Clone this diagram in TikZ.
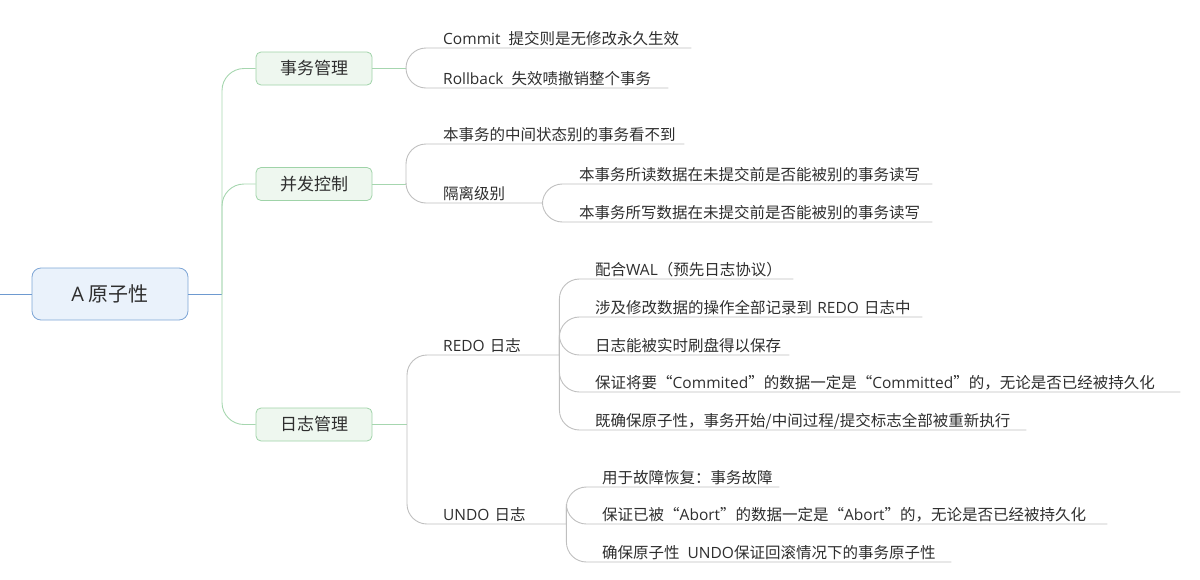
\documentclass[tikz,border=0pt]{standalone}
\usepackage{fontspec}
\setmainfont{Noto Sans CJK SC}
\newfontfamily\lat{Open Sans}
\definecolor{txt}{HTML}{2E2E2E}
\definecolor{grayline}{HTML}{BFBFBF}
\definecolor{greenl}{HTML}{A6D6AF}
\definecolor{brborder}{HTML}{9FD3A8}
\definecolor{brfill}{HTML}{EEF7EF}
\definecolor{rootfill}{HTML}{EAF2FB}
\definecolor{rootborder}{HTML}{7EA6D6}
\definecolor{bluel}{HTML}{6E9AD0}
\begin{document}
\begin{tikzpicture}[x=1pt,y=-1pt,
  rootbox/.style={draw=rootborder, fill=rootfill, rounded corners=9pt, minimum width=156pt, minimum height=52pt, inner sep=0pt, font=\fontsize{20}{24}\selectfont, text=txt, line width=0.8pt},
  branchbox/.style={draw=brborder, fill=brfill, rounded corners=5pt, minimum width=116pt, minimum height=33pt, inner sep=0pt, font=\fontsize{17}{20}\selectfont, text=txt, line width=0.8pt},
  leaf/.style={anchor=south west, inner xsep=0pt, inner ysep=3.5pt, text depth=0pt, align=left, font=\fontsize{15.5}{18}\selectfont, text=txt},
  gline/.style={draw=grayline, line width=0.9pt, rounded corners=20pt},
  greenline/.style={draw=greenl, line width=0.9pt, rounded corners=22pt},
  blueline/.style={draw=bluel, line width=0.9pt}]
\useasboundingbox (0,0) rectangle (1200,579);

% root and branches
\node[rootbox] (root) at (110,294) {{\lat A} 原子性};
\coordinate (lstub) at (0,294);
\coordinate (trunk) at (222,294);
\node[branchbox] (b1) at (314,68.5) {事务管理};
\node[branchbox] (b2) at (314,184) {并发控制};
\node[branchbox] (b3) at (314,424.5) {日志管理};
\coordinate (j1) at (406,68.5);
\coordinate (j2) at (406,184);
\coordinate (j3) at (407,424.5);

% leaves
\node[leaf, text width=248pt] (c1) at (443,48) {\mbox{{\lat Commit}\hspace{8pt}提交则是无修改永久生效}};
\node[leaf, text width=225pt] (c2) at (443,88) {\mbox{{\lat Rollback}\hspace{8pt}失效啧撤销整个事务}};
\node[leaf, text width=241pt] (p1) at (443,144) {\mbox{本事务的中间状态别的事务看不到}};
\node[leaf, text width=99pt] (p2) at (443,203) {\mbox{隔离级别}};
\node[leaf, text width=353pt] (p21) at (579,184) {\mbox{本事务所读数据在未提交前是否能被别的事务读写}};
\node[leaf, text width=353pt] (p22) at (579,222) {\mbox{本事务所写数据在未提交前是否能被别的事务读写}};
\node[leaf, text width=116pt] (redo) at (443,355) {\mbox{{\lat REDO} 日志}};
\node[leaf, text width=123pt] (undo) at (443,524) {\mbox{{\lat UNDO} 日志}};
\node[leaf, text width=198pt] (r1) at (595,279) {\mbox{配合{\lat WAL}（预先日志协议）}};
\node[leaf, text width=327pt] (r2) at (595,317) {\mbox{涉及修改数据的操作全部记录到 {\lat REDO} 日志中}};
\node[leaf, text width=194pt] (r3) at (595,355) {\mbox{日志能被实时刷盘得以保存}};
\node[leaf, text width=585pt] (r4) at (595,392) {\mbox{保证将要“{\lat Commited}”的数据一定是“{\lat Committed}”的，无论是否已经被持久化}};
\node[leaf, text width=431pt] (r5) at (595,430) {\mbox{既确保原子性，事务开始/中间过程/提交标志全部被重新执行}};
\node[leaf, text width=177pt] (u1) at (602,487) {\mbox{用于故障恢复：事务故障}};
\node[leaf, text width=505pt] (u2) at (602,524) {\mbox{保证已被“{\lat Abort}”的数据一定是“{\lat Abort}”的，无论是否已经被持久化}};
\node[leaf, text width=349pt] (u3) at (602,562) {\mbox{确保原子性\hspace{8pt}{\lat UNDO}保证回滚情况下的事务原子性}};

% connectors
\draw[blueline] (lstub) -- (root.west);
\draw[blueline] (root.east) -- (trunk);
\draw[greenline] (trunk) |- (b1.west);
\draw[greenline] (trunk) |- (b2.west);
\draw[greenline] (trunk) |- (b3.west);
\draw[greenline] (b1.east) -- (j1);
\draw[greenline] (b2.east) -- (j2);
\draw[greenline] (b3.east) -- (j3);

\draw[gline] (j1) |- (c1.south east);
\draw[gline] (j1) |- (c2.south east);
\draw[gline] (j2) |- (p1.south east);
\draw[gline] (j2) |- (p2.south east);
\draw[gline] (p2.south east) |- (p21.south east);
\draw[gline] (p2.south east) |- (p22.south east);
\draw[gline] (j3) |- (redo.south east);
\draw[gline] (j3) |- (undo.south east);
\draw[gline] (redo.south east) |- (r1.south east);
\draw[gline] (redo.south east) |- (r2.south east);
\draw[gline] (redo.south east) |- (r3.south east);
\draw[gline] (redo.south east) |- (r4.south east);
\draw[gline] (redo.south east) |- (r5.south east);
\draw[gline] (undo.south east) |- (u1.south east);
\draw[gline] (undo.south east) |- (u2.south east);
\draw[gline] (undo.south east) |- (u3.south east);
\end{tikzpicture}
\end{document}
